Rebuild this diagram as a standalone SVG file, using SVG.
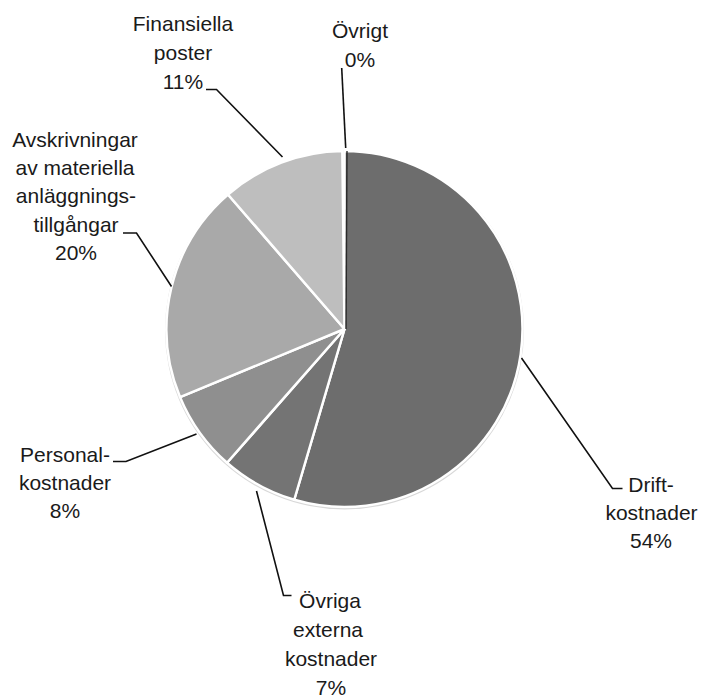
<svg xmlns="http://www.w3.org/2000/svg" width="704" height="698" viewBox="0 0 704 698">
<style>
.lbl{font-family:"Liberation Sans",Arial,sans-serif;font-size:21px;fill:#1a1a1a;text-anchor:middle}
.slice{stroke:#ffffff;stroke-width:2.5;stroke-linejoin:round}
.lead{fill:none;stroke:#111111;stroke-width:1.6}
</style>
<rect width="704" height="698" fill="#ffffff"/>
<g id="pie">
<circle cx="344.5" cy="330" r="179.5" fill="#d8d8d8"/>
<g id="drift"><path class="slice" fill="#6d6d6d" d="M344.5,329 L344.5,151 A178,178 0 1 1 294.25,499.76 Z"/></g>
<g id="ovriga-externa"><path class="slice" fill="#747474" d="M344.5,329 L294.25,499.76 A178,178 0 0 1 227.02,462.73 Z"/></g>
<g id="personal"><path class="slice" fill="#8f8f8f" d="M344.5,329 L227.02,462.73 A178,178 0 0 1 180.05,397.12 Z"/></g>
<g id="avskrivningar"><path class="slice" fill="#a9a9a9" d="M344.5,329 L180.05,397.12 A178,178 0 0 1 227.96,194.45 Z"/></g>
<g id="finansiella"><path class="slice" fill="#bebebe" d="M344.5,329 L227.96,194.45 A178,178 0 0 1 342.33,151.01 Z"/></g>
<g id="ovrigt"><path fill="none" stroke="#2a2a2a" stroke-width="1.4" d="M347,151 L346,329"/></g>
</g>
<g id="connectors">
<path class="lead" d="M345.7,148 L341.7,68"/>
<path class="lead" d="M206,89.5 L216.5,89.5 L282.5,157"/>
<path class="lead" d="M123,233 L136.5,233 L171.5,286.5"/>
<path class="lead" d="M113,461.5 L126,461.5 L196.5,434"/>
<path class="lead" d="M256.5,491 L283.5,595.5 L291.5,595.5"/>
<path class="lead" d="M521.5,358 L612.5,488.5 L622.5,488.5"/>
</g>
<g id="labels">
<g id="lbl-finansiella"><text class="lbl" x="183" y="30.5">Finansiella</text><text class="lbl" x="183" y="59.5">poster</text><text class="lbl" x="183" y="89">11%</text></g>
<g id="lbl-ovrigt"><text class="lbl" x="360" y="38">Övrigt</text><text class="lbl" x="360" y="67">0%</text></g>
<g id="lbl-avskrivningar"><text class="lbl" x="75" y="147">Avskrivningar</text><text class="lbl" x="75" y="175">av materiella</text><text class="lbl" x="76" y="203">anläggnings-</text><text class="lbl" x="76" y="231.5">tillgångar</text><text class="lbl" x="76" y="260">20%</text></g>
<g id="lbl-personal"><text class="lbl" x="65" y="462">Personal-</text><text class="lbl" x="65" y="490">kostnader</text><text class="lbl" x="65" y="518">8%</text></g>
<g id="lbl-ovriga"><text class="lbl" x="330" y="608">Övriga</text><text class="lbl" x="328" y="637">externa</text><text class="lbl" x="331" y="666">kostnader</text><text class="lbl" x="331" y="695">7%</text></g>
<g id="lbl-drift"><text class="lbl" x="651" y="492">Drift-</text><text class="lbl" x="651.5" y="520">kostnader</text><text class="lbl" x="651" y="548">54%</text></g>
</g>
</svg>
